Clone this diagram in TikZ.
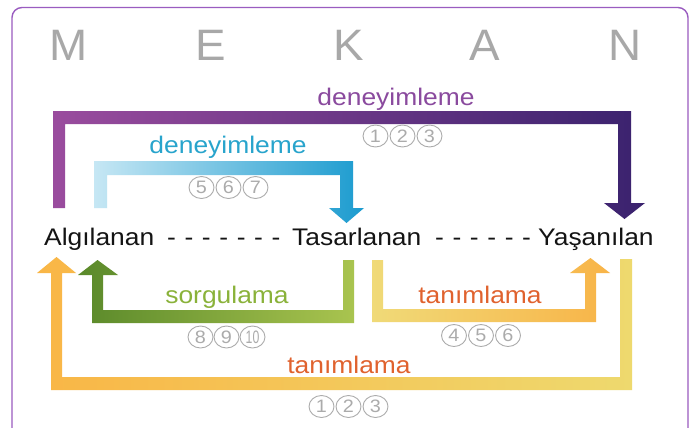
\documentclass[tikz,border=0pt]{standalone}
\usepackage{fontspec}
\setmainfont{Liberation Sans}[FakeStretch=1.1]
\newfontfamily\letterfont{Liberation Sans}[FakeStretch=1.04]
\usetikzlibrary{shapes.geometric}

\definecolor{framepurple}{HTML}{9A5CC0}
\definecolor{lettergray}{HTML}{A8A8A8}
\definecolor{numgray}{HTML}{ABABAB}
\definecolor{txtblack}{HTML}{141414}
% arrow gradients
\definecolor{purA}{HTML}{9A4C9E}
\definecolor{purM}{HTML}{6A2C8C}
\definecolor{purB}{HTML}{3A226E}
\definecolor{bluA}{HTML}{C6E7F4}
\definecolor{bluM}{HTML}{5CBDE0}
\definecolor{bluB}{HTML}{1B9BCF}
\definecolor{grnA}{HTML}{5A892A}
\definecolor{grnB}{HTML}{A9C44F}
\definecolor{ylwA}{HTML}{F0DA78}
\definecolor{ylwB}{HTML}{F8B448}
\definecolor{orgA}{HTML}{F9B646}
\definecolor{orgB}{HTML}{EED96E}
% label colours
\definecolor{lblpurple}{HTML}{8A4A9E}
\definecolor{lblblue}{HTML}{28A4CC}
\definecolor{lblgreen}{HTML}{8AB23A}
\definecolor{lblorange}{HTML}{E0622E}

\tikzset{
  bigletter/.style={anchor=base, text=lettergray, font=\letterfont\fontsize{44}{44}\selectfont, inner sep=0pt},
  term/.style={anchor=base west, text=txtblack, font=\fontsize{24}{28}\selectfont, inner sep=0pt},
  actlabel/.style={anchor=base, font=\fontsize{24}{28}\selectfont, inner sep=0pt},
  num/.style={ellipse, draw=numgray, line width=0.9pt, minimum width=25pt, minimum height=22pt,
              inner sep=0pt, text=numgray, font=\fontsize{18}{18}\selectfont},
}
\newcommand{\narrowten}{\scalebox{0.62}[1]{10}}
\newcommand{\dashline}[1]{{\spaceskip=8.6pt plus 0pt minus 0pt\relax #1}}

\begin{document}
\begin{tikzpicture}[x=1pt,y=-1pt]
\useasboundingbox (0,0) rectangle (691,428);
\fill[white] (0,0) rectangle (691,428);
\begin{scope}
\clip (0,0) rectangle (691,428);
% panel frame, open past the lower edge
\draw[framepurple, line width=1.4pt, rounded corners=10pt] (12,460) -- (12,7.5) -- (688,7.5) -- (688,460);

% title letters
\node[bigletter] (m) at (68.5,60) {M};
\node[bigletter] (e) at (210.5,60) {E};
\node[bigletter] (k) at (349,60) {K};
\node[bigletter] (a) at (485,60) {A};
\node[bigletter] (n) at (625,60) {N};

% purple: Algılanan -> Yaşanılan
\shade[left color=purA, middle color=purM, right color=purB]
  (53,208) -- (53,111) -- (631,111) -- (631,203) -- (645,203) -- (624.5,219)
  -- (604,203) -- (618,203) -- (618,124) -- (65,124) -- (65,208) -- cycle;
\node[actlabel, text=lblpurple] (lp) at (396,106) {deneyimleme};
\node[num] (p1) at (375.5,136) {1};
\node[num] (p2) at (402.5,136) {2};
\node[num] (p3) at (429.5,136) {3};

% blue: Algılanan -> Tasarlanan
\shade[left color=bluA, middle color=bluM, right color=bluB]
  (94,208) -- (94,161) -- (353,161) -- (353,208) -- (364,208) -- (346.5,223)
  -- (329,208) -- (340,208) -- (340,175) -- (107,175) -- (107,208) -- cycle;
\node[actlabel, text=lblblue] (lb) at (228,153) {deneyimleme};
\node[num] (b1) at (201.5,187.5) {5};
\node[num] (b2) at (228.5,187.5) {6};
\node[num] (b3) at (255.5,187.5) {7};

% terms on the middle line
\node[term] (alg) at (44,245) {Algılanan};
\node[term] (d1) at (167,245) {\dashline{- - - - - - -}};
\node[term] (tas) at (292,245) {Tasarlanan};
\node[term] (d2) at (435,245) {\dashline{- - - - - -}};
\node[term] (yas) at (538,245) {Yaşanılan};

% green: Tasarlanan -> Algılanan
\shade[left color=grnA, right color=grnB]
  (354,260) -- (354,323) -- (92,323) -- (92,275) -- (78,275) -- (97.5,260)
  -- (118,275) -- (103,275) -- (103,310) -- (343,310) -- (343,260) -- cycle;
\node[actlabel, text=lblgreen] (lg) at (227,303) {sorgulama};
\node[num] (g1) at (200.5,337) {8};
\node[num] (g2) at (226.5,337) {9};
\node[num] (g3) at (252.5,337) {\narrowten};

% yellow: Tasarlanan -> Yaşanılan
\shade[left color=ylwA, right color=ylwB]
  (372,260) -- (372,322) -- (596,322) -- (596,273) -- (610,273) -- (590.5,258)
  -- (570,273) -- (585,273) -- (585,309) -- (383,309) -- (383,260) -- cycle;
\node[actlabel, text=lblorange] (ly) at (480,303) {tanımlama};
\node[num] (y1) at (454,335.5) {4};
\node[num] (y2) at (481,335.5) {5};
\node[num] (y3) at (508,335.5) {6};

% orange: Yaşanılan -> Algılanan
\shade[left color=orgA, right color=orgB]
  (632,259) -- (632,390) -- (51,390) -- (51,273) -- (37,273) -- (56.5,257)
  -- (76,273) -- (62,273) -- (62,377) -- (620,377) -- (620,259) -- cycle;
\node[actlabel, text=lblorange] (lo) at (349,373) {tanımlama};
\node[num] (o1) at (321.5,406.5) {1};
\node[num] (o2) at (348.5,406.5) {2};
\node[num] (o3) at (375.5,406.5) {3};
\end{scope}
\end{tikzpicture}
\end{document}
